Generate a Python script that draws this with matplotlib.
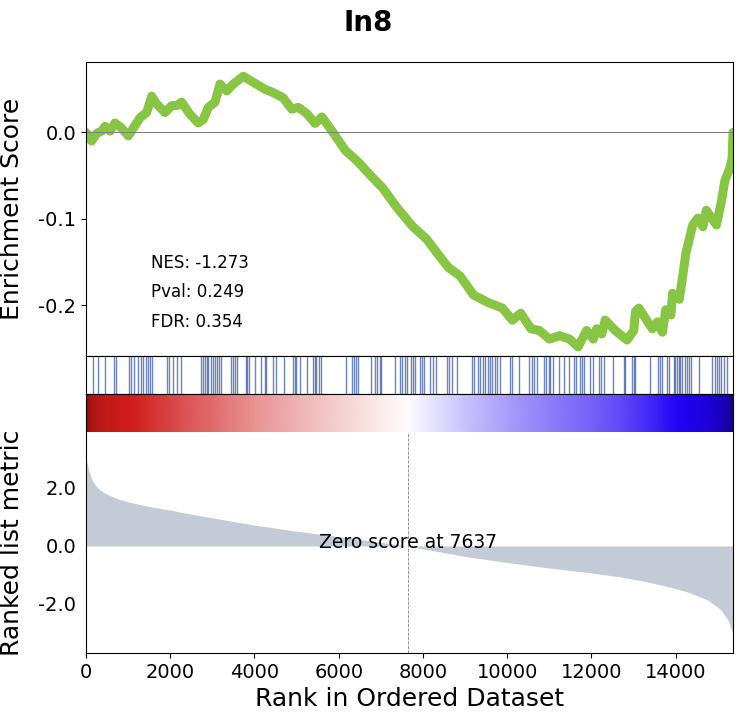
import numpy as np
import matplotlib.pyplot as plt
from matplotlib.colors import LinearSegmentedColormap, TwoSlopeNorm
from matplotlib.ticker import FormatStrFormatter

# gene set / stats
term = "In8"
nes, pval, fdr = -1.273, 0.249, 0.354
n_genes = 15360
zero_score = 7637

# running enrichment score (rank, ES)
es_rank = [0, 31, 135, 254, 372, 451, 570, 689, 847, 1005, 1124, 1282, 1441, 1560,
           1678, 1876, 2034, 2153, 2272, 2469, 2666, 2785, 2904, 3063, 3181, 3340,
           3497, 3735, 3972, 4249, 4447, 4684, 4883, 5040, 5240, 5441, 5600, 5880,
           6160, 6440, 6760, 7041, 7400, 7763, 8081, 8361, 8601, 8882, 9202, 9562,
           9883, 10122, 10322, 10564, 10763, 11003, 11243, 11483, 11684, 11884,
           12044, 12124, 12245, 12325, 12565, 12845, 13005, 13045, 13124, 13444,
           13565, 13684, 13764, 13885, 13926, 14085, 14166, 14244, 14405, 14524,
           14645, 14726, 14966, 15085, 15165, 15286, 15340, 15360]
es_val = [0.0, -0.002, -0.010, -0.001, 0.0015, 0.007, 0.0015, 0.011, 0.005, -0.004,
          0.005, 0.017, 0.023, 0.042, 0.033, 0.023, 0.031, 0.031, 0.035, 0.021,
          0.011, 0.015, 0.029, 0.035, 0.056, 0.048, 0.056, 0.065, 0.058, 0.050,
          0.046, 0.040, 0.027, 0.029, 0.022, 0.0105, 0.018, -0.001, -0.021, -0.033,
          -0.050, -0.064, -0.088, -0.109, -0.123, -0.141, -0.156, -0.166, -0.188,
          -0.197, -0.203, -0.217, -0.209, -0.227, -0.229, -0.239, -0.235, -0.239,
          -0.248, -0.229, -0.239, -0.227, -0.233, -0.217, -0.229, -0.240, -0.229,
          -0.207, -0.203, -0.227, -0.219, -0.231, -0.205, -0.211, -0.186, -0.193,
          -0.166, -0.139, -0.107, -0.099, -0.109, -0.090, -0.107, -0.080, -0.056,
          -0.041, -0.030, 0.0]

# positions of gene set members in the ranked list
hits = [166, 285, 444, 665, 719, 1028, 1075, 1147, 1234, 1313, 1360, 1424, 1472,
        1519, 1560, 1916, 1978, 2072, 2167, 2262, 2737, 2777, 2818, 2865, 2903,
        2960, 3008, 3063, 3117, 3157, 3198, 3435, 3490, 3530, 3577, 3791, 3829,
        3870, 4005, 4147, 4242, 4280, 4440, 4518, 4700, 4914, 4955, 4993, 5073,
        5254, 5389, 5429, 5468, 5525, 5572, 6180, 6315, 6363, 6417, 6458, 6773,
        6854, 6916, 6973, 7011, 7329, 7448, 7503, 7567, 7628, 7723, 7763, 7803,
        7936, 7977, 8017, 8174, 8231, 8309, 8570, 8625, 8689, 8808, 9164, 9204,
        9306, 9361, 9425, 9480, 9543, 9598, 9638, 9717, 9757, 9835, 10073, 10113,
        10287, 10510, 10588, 10629, 10707, 10866, 10921, 10985, 11023, 11080,
        11222, 11341, 11460, 11578, 11633, 11735, 11775, 11815, 11972, 12029,
        12186, 12233, 12290, 12504, 12765, 12803, 12962, 13003, 13041, 13397,
        13580, 13635, 13675, 13794, 13834, 13953, 13990, 14031, 14071, 14109,
        14149, 14228, 14268, 14308, 14370, 14546, 14861, 14925, 14979, 15020,
        15082, 15139, 15218]

# ranked list metric
metric_rank = [0, 20, 60, 100, 170, 250, 330, 500, 810, 1000, 1280, 1500, 2000,
               2230, 3000, 4000, 5000, 6000, 7000, 7637, 8000, 9000, 10000, 11000,
               12000, 12690, 13200, 13700, 14000, 14290, 14760, 15070, 15240, 15300,
               15360]
metric_val = [3.0, 2.9, 2.65, 2.45, 2.2, 2.05, 1.93, 1.78, 1.6, 1.52, 1.43, 1.36,
              1.24, 1.17, 0.97, 0.72, 0.51, 0.32, 0.13, 0.0, -0.1, -0.36, -0.57,
              -0.76, -0.93, -1.07, -1.2, -1.36, -1.47, -1.59, -1.86, -2.2, -2.55,
              -2.8, -3.0]

fig = plt.figure(figsize=(7.36, 7.14), dpi=100)
L, W = 0.1168, 0.8791

# enrichment score
ax4 = fig.add_axes([L, 0.5014, W, 0.4118])
ax4.plot(es_rank, es_val, linewidth=6.5, color='#88C544',
         solid_capstyle='round', solid_joinstyle='round')
ax4.axhline(0, linewidth=.8, color='grey')
ax4.text(.1, .3, 'NES: {:.3f}'.format(nes), transform=ax4.transAxes, fontsize=12)
ax4.text(.1, .2, 'Pval: {:.3f}'.format(pval), transform=ax4.transAxes, fontsize=12)
ax4.text(.1, .1, 'FDR: {:.3f}'.format(fdr), transform=ax4.transAxes, fontsize=12)
ax4.set_xlim(0, n_genes)
ax4.set_ylim(-0.2585, 0.0815)
ax4.set_yticks([-0.2, -0.1, 0.0])
ax4.yaxis.set_major_formatter(FormatStrFormatter('%.1f'))
ax4.tick_params(axis='x', bottom=False, labelbottom=False)
ax4.tick_params(axis='y', labelsize=14)
ax4.set_ylabel("Enrichment Score", fontsize=18)
ax4.yaxis.set_label_coords(-0.095, 0.5)

# hits
ax2 = fig.add_axes([L, 0.4482, W, 0.0532])
ax2.vlines(hits, 0, 1, linewidth=1.0, color='#2f4f9e', alpha=0.7)
ax2.set_xlim(0, n_genes)
ax2.set_ylim(0, 1)
ax2.set_xticks([])
ax2.set_yticks([])

# ranking colour bar
cmap = LinearSegmentedColormap.from_list(
    'rk', [(0, '#160080'), (0.25, '#2200f5'), (0.5, '#ffffff'),
           (0.75, '#d01c1c'), (1, '#8a0c0c')])
ax3 = fig.add_axes([L, 0.3950, W, 0.0532])
xx = np.array([metric_rank, metric_rank])
yy = np.array([np.zeros(len(metric_rank)), np.ones(len(metric_rank))])
cc = np.array([metric_val, metric_val])
ax3.pcolormesh(xx, yy, cc, shading='gouraud', cmap=cmap,
               norm=TwoSlopeNorm(vcenter=0, vmin=-3.0, vmax=3.0))
ax3.set_xlim(0, n_genes)
ax3.set_ylim(0, 1)
ax3.set_xticks([])
ax3.set_yticks([])
ax3.spines['bottom'].set_visible(False)

# ranked list metric
ax1 = fig.add_axes([L, 0.0854, W, 0.3096])
ax1.fill_between(metric_rank, metric_val, 0, color='#C5CBD6', linewidth=0)
ax1.axvline(zero_score, linewidth=.6, linestyle='--', color='grey')
ax1.text(zero_score, 0.5, 'Zero score at {}'.format(zero_score),
         ha='center', va='center', fontsize=13.5,
         transform=ax1.get_xaxis_transform())
ax1.set_xlim(0, n_genes)
ax1.set_ylim(-3.69, 3.93)
ax1.set_yticks([-2, 0, 2])
ax1.set_xticks(range(0, 15000, 2000))
ax1.yaxis.set_major_formatter(FormatStrFormatter('%.1f'))
ax1.spines['top'].set_visible(False)
ax1.tick_params(axis='y', left=False, labelsize=14)
ax1.tick_params(axis='x', labelsize=14)
ax1.set_xlabel("Rank in Ordered Dataset", fontsize=18)
ax1.set_ylabel("Ranked list metric", fontsize=18)
ax1.yaxis.set_label_coords(-0.095, 0.5)

fig.suptitle(term, fontsize=20, fontweight='bold', y=0.988)

fig.savefig('out.png', dpi=100)
